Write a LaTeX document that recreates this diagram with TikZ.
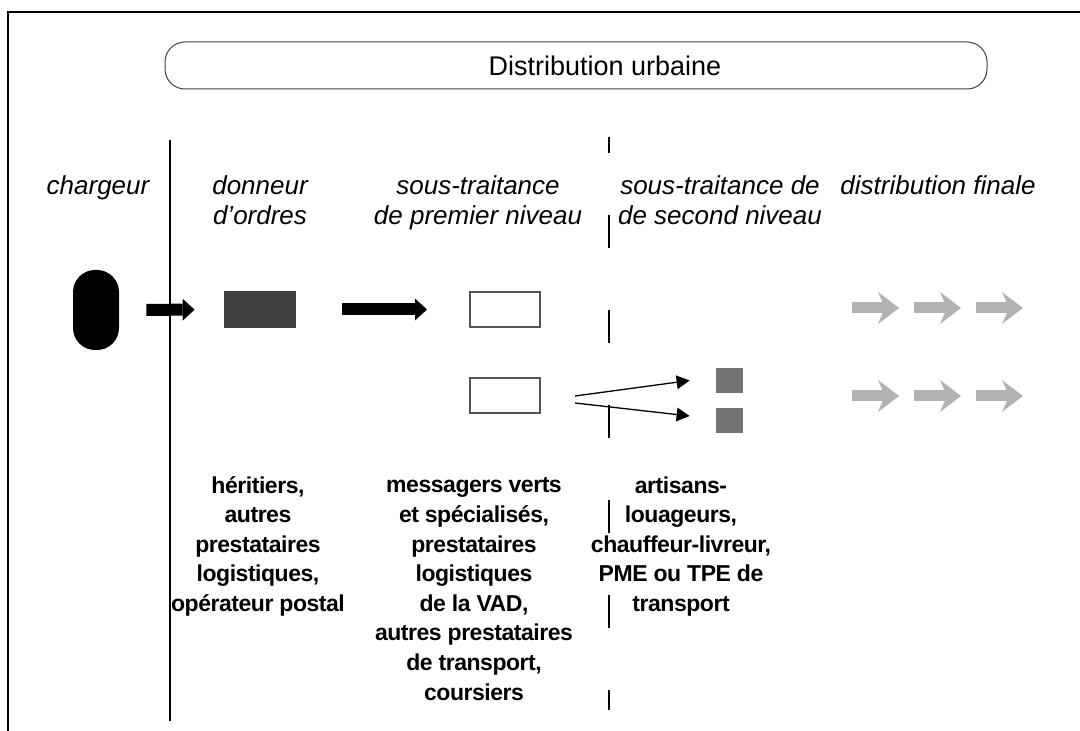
\documentclass[tikz,border=0pt]{standalone}
\usepackage{fontspec}
\setmainfont{Liberation Sans}
\newfontfamily\bodyfont[LetterSpace=-2]{Liberation Sans}
\usetikzlibrary{arrows.meta}
\tikzset{
titlebox/.style={draw=black!75, line width=0.5pt, rounded corners=10pt, minimum width=411pt, minimum height=23.5pt, inner sep=0pt},
head/.style={font=\itshape\fontsize{13}{15}\selectfont, align=center, anchor=base, inner sep=0pt},
body/.style={font=\bodyfont\bfseries\fontsize{11.5}{14.8}\selectfont, align=center, anchor=base, inner sep=0pt},
pill/.style={fill=black, rounded corners=11pt, minimum width=23pt, minimum height=40pt, inner sep=0pt},
darkbox/.style={fill=black!75, minimum width=36pt, minimum height=18.5pt, inner sep=0pt},
openbox/.style={draw=black!67, line width=1pt, minimum width=35pt, minimum height=17.5pt, inner sep=0pt},
smallbox/.style={fill=black!55, minimum width=13.5pt, minimum height=12.5pt, inner sep=0pt},
bigarrow/.style={line width=6pt, -{Triangle[length=6pt,width=11pt,line width=0pt]}},
thinarrow/.style={line width=0.65pt, -{Triangle[length=6.5pt,width=7pt,line width=0pt]}},
greyarrow/.style={draw=black!30, line width=5.5pt, -{Stealth[length=10.5pt,width=16pt,inset=3.5pt,line width=0pt]}}
}
\begin{document}
\begin{tikzpicture}[x=0.5pt, y=-0.5pt]
  \useasboundingbox (0,0) rectangle (1080,731);
  \draw[line width=1pt] (8,731) -- (8,12) -- (1080,12);
  \node[titlebox] (urbain) at (576,65.5) {};
  \node[font=\fontsize{13.5}{16}\selectfont, inner sep=0pt] (titre) at (605,66) {Distribution urbaine};

  \draw[line width=0.7pt] (170,140) -- (170,721);
  \draw[line width=0.7pt, dash pattern=on 16.5pt off 31pt, dash phase=8.5pt] (609,137) -- (609,710);

  \node[head] (charg) at (98,195) {chargeur};
  \node[head] (donn) at (260,225) {donneur\\d’ordres};
  \node[head] (st1) at (478,225) {sous-traitance\\de premier niveau};
  \node[head] (st2) at (720,225) {sous-traitance de\\de second niveau};
  \node[head] (fin) at (938,195) {distribution finale};

  \node[pill] (chargeur) at (96,310) {};
  \node[darkbox] (donneur) at (260,309.5) {};
  \node[openbox] (prem1) at (505,309.5) {};
  \node[openbox] (prem2) at (505,396) {};
  \node[smallbox] (sec1) at (729.5,380.5) {};
  \node[smallbox] (sec2) at (729.5,421) {};

  \draw[bigarrow, shorten <=13.5pt, shorten >=14.5pt] (chargeur.east) -- (donneur.west);
  \draw[bigarrow, shorten <=23pt, shorten >=21pt] (donneur.east) -- (prem1.west);
  \draw[thinarrow] ([xshift=17pt]prem2.east) -- ([xshift=-13pt]sec1.west);
  \draw[thinarrow] ([xshift=17pt, yshift=-3.5pt]prem2.east) -- ([xshift=-13pt, yshift=2.5pt]sec2.west);

  \foreach \x in {852,914,976} {
    \draw[greyarrow] (\x,308) -- ++(47,0);
    \draw[greyarrow] (\x,396) -- ++(47,0);
  }

  \node[body] (txt1) at (258,611.5) {héritiers,\\autres\\prestataires\\logistiques,\\opérateur postal};
  \node[body] (txt2) at (474,700) {messagers verts\\et spécialisés,\\prestataires\\logistiques\\de la VAD,\\autres prestataires\\de transport,\\coursiers};
  \node[body] (txt3) at (681,611.5) {artisans-\\louageurs,\\chauffeur-livreur,\\PME ou TPE de\\transport};
\end{tikzpicture}
\end{document}
